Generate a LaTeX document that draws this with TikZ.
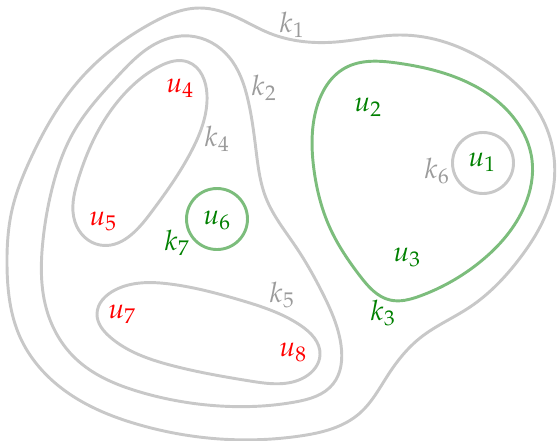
\documentclass[tikz,border=0pt]{standalone}
\usepackage{mathpazo}
\usetikzlibrary{hobby}
\definecolor{linegray}{RGB}{200,200,200}
\definecolor{labgray}{RGB}{155,155,155}
\definecolor{lgreen}{RGB}{124,189,124}
\definecolor{dgreen}{RGB}{0,128,0}
\begin{document}
\begin{tikzpicture}[x=0.75pt,y=-0.75pt,
  every node/.style={font=\fontsize{21}{25}\selectfont, inner sep=0pt},
  curve/.style={draw=linegray, line width=2.2pt},
  gcurve/.style={draw=lgreen, line width=2.2pt},
  ulab/.style={text=red},
  glab/.style={text=dgreen},
  klab/.style={text=labgray},
  ring/.style={circle, minimum size=45.75pt, line width=2.2pt}]
\useasboundingbox (0,0) rectangle (557,440);
% k1
\draw[curve] plot[closed hobby] coordinates {
 (200,8) (236,17) (269,33) (336,42) (400,35) (489,63) (543,120) (552,195)
 (520,258) (470,307) (420,338) (388,375) (360,413) (300,436) (220,439)
 (140,425) (60,387) (20,337) (7,265) (12,210) (30,160) (83,76) (150,24)};
% k2
\draw[curve] plot[closed hobby] coordinates {
 (190,36) (229,57) (248,100) (256,150) (266,198) (296,247) (323,294)
 (341,345) (333,384) (295,402) (220,406) (140,392) (75,358) (47,311)
 (43,240) (53,185) (73,133) (117,77) (157,43)};
% k4
\draw[curve] plot[closed hobby] coordinates {
 (188,62) (207,95) (192,150) (150,214) (100,245) (75,222) (78,180)
 (97,133) (130,88) (160,66)};
% k5
\draw[curve] plot[closed hobby] coordinates {
 (97,314) (115,290) (170,284) (240,300) (300,325) (320,355) (305,377)
 (250,381) (170,365) (110,337)};
% k3
\draw[gcurve] plot[closed hobby] coordinates {
 (397,63) (455,77) (505,108) (532,160) (525,205) (480,262) (420,296)
 (390,300) (360,276) (330,228) (314,170) (316,110) (345,68)};
% circles
\node[ring, draw=lgreen] (c7) at (217,219) {};
\node[ring, draw=linegray] (c6) at (483,163) {};
% labels
\node[klab] (k1) at (292,25) {$k_1$};
\node[klab] (k2) at (264,88) {$k_2$};
\node[glab] (k3) at (383,313) {$k_3$};
\node[klab] (k4) at (217,139) {$k_4$};
\node[klab] (k5) at (282,295) {$k_5$};
\node[klab] (k6) at (437,171) {$k_6$};
\node[glab] (k7) at (177,243) {$k_7$};
\node[glab] (u1) at (482,162) {$u_1$};
\node[glab] (u2) at (368,107) {$u_2$};
\node[glab] (u3) at (407,257) {$u_3$};
\node[ulab] (u4) at (180,88) {$u_4$};
\node[ulab] (u5) at (103,221) {$u_5$};
\node[glab] (u6) at (217,220) {$u_6$};
\node[ulab] (u7) at (122,314) {$u_7$};
\node[ulab] (u8) at (293,352) {$u_8$};
\end{tikzpicture}
\end{document}
